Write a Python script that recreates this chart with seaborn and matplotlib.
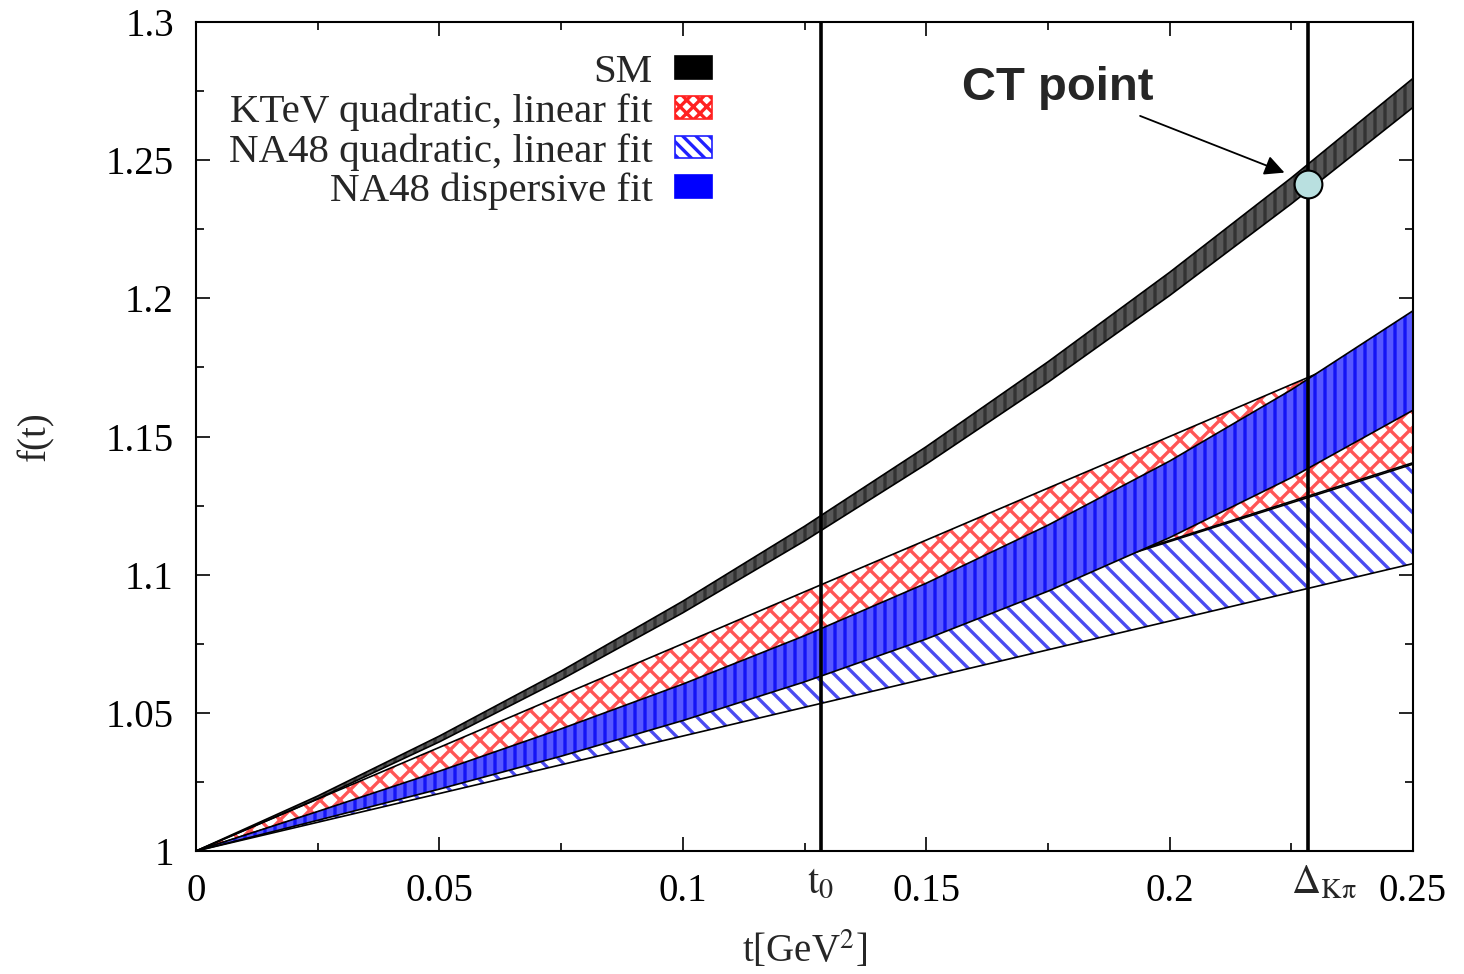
import numpy as np
import pandas as pd
import matplotlib
matplotlib.use("Agg")
import matplotlib.pyplot as plt
import seaborn as sns
from matplotlib.patches import Patch
from matplotlib.ticker import FixedLocator, MultipleLocator, FixedFormatter

# ---------------- data ----------------
t = [0.0, 0.025, 0.05, 0.075, 0.1, 0.125, 0.15, 0.175, 0.2, 0.225, 0.25]

sm_upper = [1.0, 1.0199, 1.0416, 1.0651, 1.0904, 1.1175, 1.1463, 1.1770, 1.2094, 1.2436, 1.2796]
sm_lower = [1.0, 1.0189, 1.0395, 1.0620, 1.0862, 1.1122, 1.1400, 1.1696, 1.2010, 1.2342, 1.2691]

ktev_upper = [1.0, 1.0188, 1.0375, 1.0563, 1.0750, 1.0938, 1.1125, 1.1313, 1.1500, 1.1688, 1.1875]
ktev_lower = [1.0, 1.0141, 1.0281, 1.0422, 1.0562, 1.0703, 1.0843, 1.0984, 1.1124, 1.1265, 1.1405]

na48q_upper = [1.0, 1.0140, 1.0280, 1.0420, 1.0560, 1.0700, 1.0840, 1.0980, 1.1120, 1.1260, 1.1400]
na48q_lower = [1.0, 1.0104, 1.0208, 1.0312, 1.0416, 1.0520, 1.0624, 1.0728, 1.0832, 1.0936, 1.1040]

na48d_upper = [1.0, 1.0143, 1.0289, 1.0442, 1.0604, 1.0779, 1.0969, 1.1179, 1.1411, 1.1669, 1.1955]
na48d_lower = [1.0, 1.0111, 1.0224, 1.0343, 1.0472, 1.0612, 1.0767, 1.0940, 1.1134, 1.1351, 1.1595]

t0 = 0.1284
delta_kpi = 0.2284
ct_value = 1.2414

legend_labels = ["SM", "KTeV quadratic, linear fit", "NA48 quadratic, linear fit", "NA48 dispersive fit"]

xtick_vals = [0.0, 0.05, 0.1, 0.15, 0.2, 0.25]
xtick_labels = ["0", "0.05", "0.1", "0.15", "0.2", "0.25"]
ytick_vals = [1.0, 1.05, 1.1, 1.15, 1.2, 1.25, 1.3]
ytick_labels = ["1", "1.05", "1.1", "1.15", "1.2", "1.25", "1.3"]

# ---------------- style ----------------
DPI = 120
K = 100.0 / DPI   # sizes below are given as if at 100 dpi


def pt(v):
    return v * K


sns.set_theme(style="ticks")
plt.rcParams.update({
    "font.family": ["Liberation Serif", "DejaVu Serif"],
    "mathtext.fontset": "stix",
    "hatch.linewidth": pt(2.4),
    "axes.linewidth": pt(1.5),
})

fig = plt.figure(figsize=(1464 / DPI, 974 / DPI), dpi=DPI)
ax = fig.add_axes([196 / 1464, 1 - 851 / 974, (1413 - 196) / 1464, (851 - 22) / 974])

bands = [
    # name, upper, lower, face, hatch, hatchcolor, zorder
    ("NA48q", na48q_upper, na48q_lower, "white", "\\\\", "#4a4af0", 2),
    ("KTeV", ktev_upper, ktev_lower, "white", "xx", "#ff5555", 3),
    ("NA48d", na48d_upper, na48d_lower, "#5858ff", "||", "#1414f5", 4),
    ("SM", sm_upper, sm_lower, "#585858", "||", "#333333", 5),
]

for name, up, lo, face, hatch, hcol, z in bands:
    # filled face
    ax.fill_between(t, lo, up, facecolor=face, edgecolor="none", linewidth=0, zorder=z)
    # hatch pattern
    ax.fill_between(t, lo, up, facecolor="none", edgecolor=hcol, hatch=hatch,
                    linewidth=0, zorder=z)
    # black outline of the band
    df = pd.DataFrame({"t": list(t) * 2, "f": list(up) + list(lo),
                       "edge": ["up"] * len(t) + ["lo"] * len(t)})
    sns.lineplot(data=df, x="t", y="f", units="edge", estimator=None,
                 color="black", linewidth=pt(1.2), ax=ax, zorder=z + 0.1, legend=False)

# vertical reference lines
ax.axvline(t0, color="black", linewidth=pt(2.6), zorder=6)
ax.axvline(delta_kpi, color="black", linewidth=pt(2.6), zorder=6)

# CT point
ax.plot([delta_kpi], [ct_value], marker="o", markersize=pt(20), markerfacecolor="#b9e0e0",
        markeredgecolor="black", markeredgewidth=pt(1.5), zorder=8, linestyle="none")

ax.annotate("CT point", xy=(0.2236, 1.2455), xytext=(0.1771, 1.2761),
            ha="center", va="center", fontsize=pt(34), fontweight="bold",
            family=["Liberation Sans", "DejaVu Sans"],
            arrowprops=dict(arrowstyle="-|>", color="black", lw=pt(1.3),
                            mutation_scale=pt(30), shrinkA=pt(4), shrinkB=0,
                            relpos=(0.85, 0.0)),
            zorder=9)

# axes limits / ticks
ax.set_xlim(0, 0.25)
ax.set_ylim(1.0, 1.3)
ax.xaxis.set_major_locator(FixedLocator(xtick_vals))
ax.xaxis.set_major_formatter(FixedFormatter(xtick_labels))
ax.yaxis.set_major_locator(FixedLocator(ytick_vals))
ax.yaxis.set_major_formatter(FixedFormatter(ytick_labels))
ax.xaxis.set_minor_locator(MultipleLocator(0.025))
ax.yaxis.set_minor_locator(MultipleLocator(0.025))
ax.tick_params(which="both", direction="in", top=True, right=True,
               width=pt(1.2), colors="black", labelsize=pt(28))
ax.tick_params(which="major", length=pt(10), pad=pt(16))
ax.tick_params(which="minor", length=pt(6))
ax.set_axisbelow(True)
for s in ax.spines.values():
    s.set_color("black")
    s.set_linewidth(pt(1.5))
    s.set_zorder(7)

# special x labels
ax.text(t0, -0.017, r"$\mathrm{t}_0$", transform=ax.get_xaxis_transform(),
        ha="center", va="top", fontsize=pt(29))
ax.text(delta_kpi - 0.0035, -0.017, r"$\Delta_{\mathrm{K\pi}}$", transform=ax.get_xaxis_transform(),
        ha="left", va="top", fontsize=pt(29))

ax.set_xlabel(r"t[GeV$^{2}$]", fontsize=pt(28))
ax.set_ylabel("f(t)", fontsize=pt(28))
ax.xaxis.set_label_coords(0.5, -0.12)
ax.xaxis.label.set_va("center")
ax.yaxis.set_label_coords(-0.132, 0.5)
ax.yaxis.label.set_va("center")

# legend
handles = [
    Patch(facecolor="black", edgecolor="black"),
    Patch(facecolor="white", edgecolor="#ff2020", hatch="xxx"),
    Patch(facecolor="white", edgecolor="#2020ff", hatch="\\\\\\"),
    Patch(facecolor="#0000ff", edgecolor="#0000ff"),
]
leg = ax.legend(handles, legend_labels, loc="upper right", bbox_to_anchor=(0.424, 0.961),
                frameon=False, fontsize=pt(29.5), markerfirst=False, handlelength=0.9,
                handleheight=0.48, handletextpad=0.55, labelspacing=0.05,
                borderpad=0, borderaxespad=0)
leg.set_zorder(10)

fig.savefig("out.png", dpi=DPI)
